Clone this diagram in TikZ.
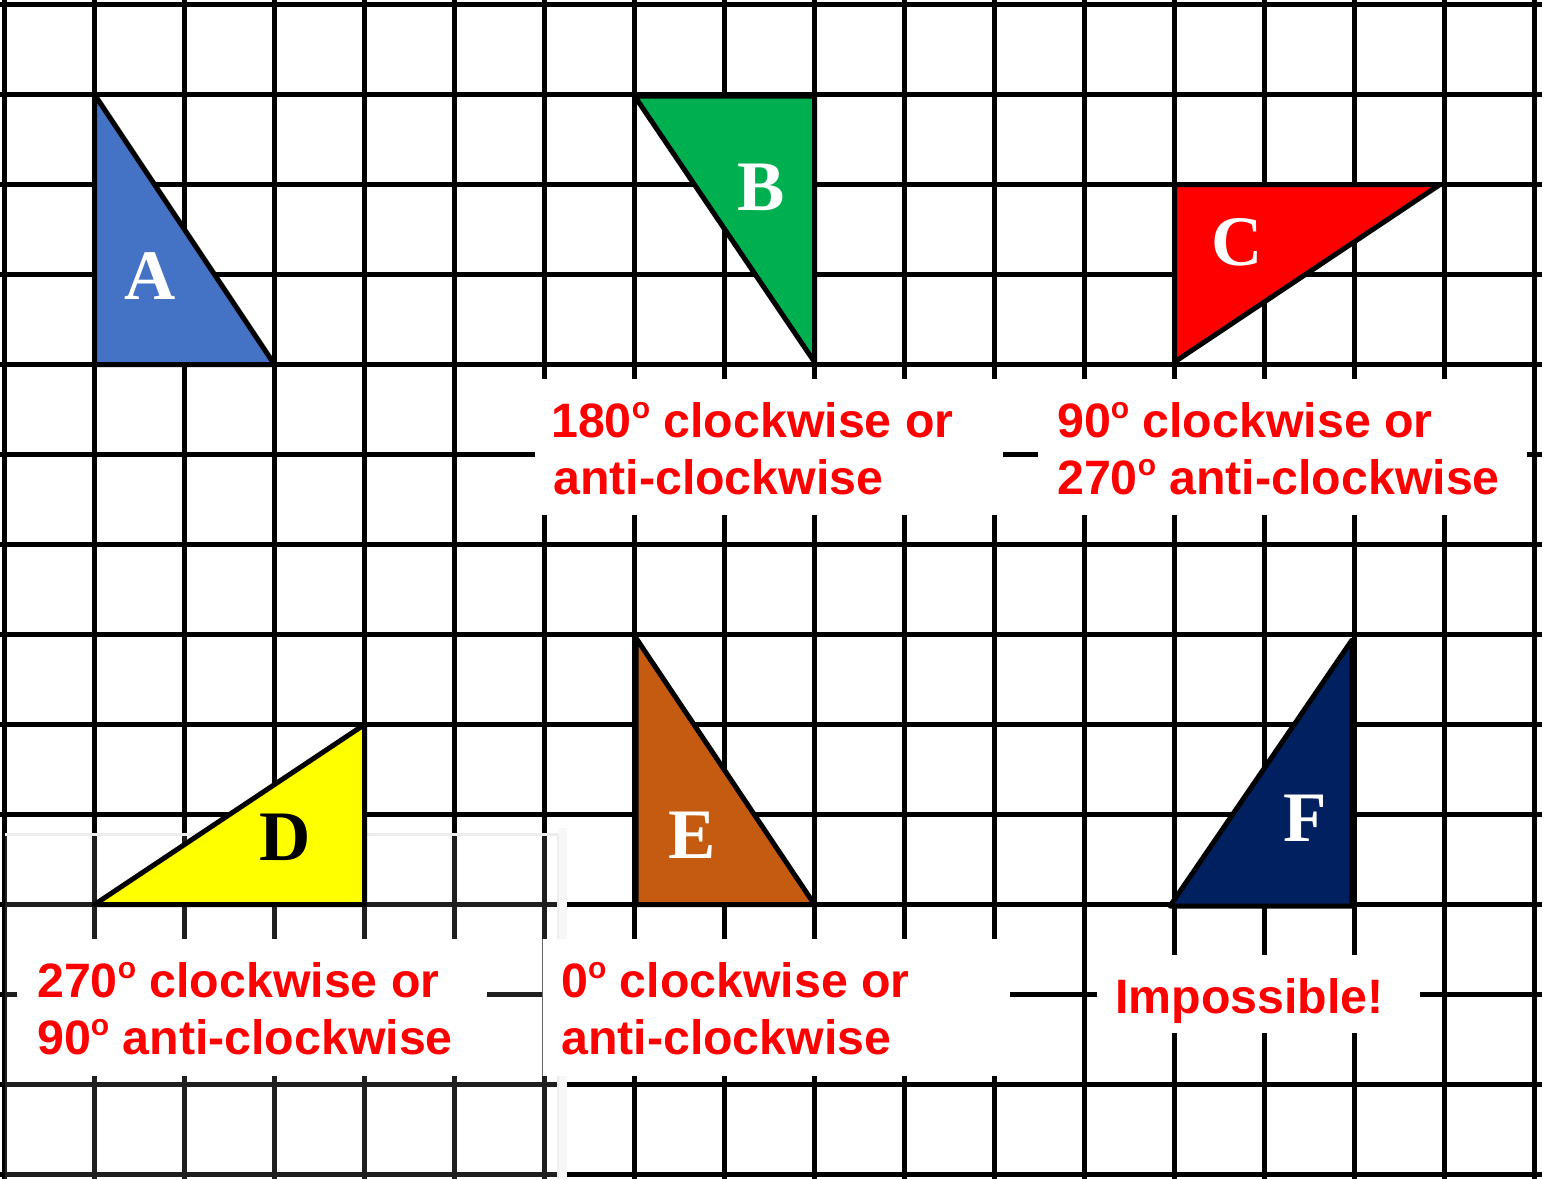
\documentclass[tikz,border=0pt]{standalone}
\usepackage{fontspec}
\newfontfamily\ansfont{Liberation Sans}
\newfontfamily\letfont{Liberation Serif}
\definecolor{triA}{HTML}{4472C4}
\definecolor{triB}{HTML}{00B050}
\definecolor{triC}{HTML}{FF0000}
\definecolor{triD}{HTML}{FFFF00}
\definecolor{triE}{HTML}{C55A11}
\definecolor{triF}{HTML}{002060}
\definecolor{ansred}{HTML}{FF0000}
\newcommand\dg{\raisebox{18.5pt}{\fontsize{30}{30}\selectfont o}}
\tikzset{
  gridline/.style={line width=4.3pt, black},
  tri/.style={line width=5pt, draw=black, line join=round},
  cover/.style={fill=white, draw=none},
  letlbl/.style={inner sep=0pt, font=\letfont\bfseries\fontsize{71}{71}\selectfont, text=white},
  ans/.style={inner sep=0pt, anchor=base west, text=ansred, font=\ansfont\bfseries\fontsize{48.3}{57}\selectfont}
}
\begin{document}
\begin{tikzpicture}[x=1pt,y=-1pt]
\useasboundingbox (0,0) rectangle (1542,1179);
\fill[white] (0,0) rectangle (1542,1179);
% grid
\foreach \i in {0,...,17} \draw[gridline] ({4.5+90*\i},0) -- ({4.5+90*\i},1179);
\foreach \j in {0,...,13} \draw[gridline] (0,{4.5+90*\j}) -- (1542,{4.5+90*\j});
% faint screenshot shadow
\fill[white, opacity=0.12] (5,835) rectangle (558,1179);
\draw[black!7, line width=3pt] (5,834) -- (558,834) -- (558,1179);
\draw[black!3, line width=8pt] (563,828) -- (563,1179);
% white answer boxes
\fill[cover] (535,379) rectangle (1003,515);
\fill[cover] (1038,379) rectangle (1527,515);
\fill[cover] (17,939) rectangle (487,1076);
\fill[cover] (542,939) rectangle (1010,1076);
\draw[black!60, line width=1pt] (542.5,939) -- (542.5,1076);
\fill[cover] (1097,955) rectangle (1420,1033);
% triangles
\draw[tri, fill=triA] (94.5,94.5) -- (94.5,364.5) -- (274.5,364.5) -- cycle;
\draw[tri, fill=triB] (634.5,96) -- (814.5,96) -- (814.5,362) -- cycle;
\draw[tri, fill=triC] (1174.5,184.5) -- (1440,184.5) -- (1174.5,362) -- cycle;
\draw[tri, fill=triD] (94.5,904.5) -- (364.5,904.5) -- (364.5,724.5) -- cycle;
\draw[tri, fill=triE] (636,638) -- (636,904.5) -- (814.5,904.5) -- cycle;
\draw[tri, fill=triF] (1352,640) -- (1352,906) -- (1170,906) -- cycle;
% letters
\node[letlbl] (lA) at (150,276) {A};
\node[letlbl] (lB) at (761,187) {B};
\node[letlbl] (lC) at (1237,242) {C};
\node[letlbl, text=black] (lD) at (285,837) {D};
\node[letlbl] (lE) at (692,835) {E};
\node[letlbl] (lF) at (1305,818) {F};
% answers
\node[ans] (tB1) at (551,437) {180\dg{} clockwise or};
\node[ans] (tB2) at (553,494) {anti-clockwise};
\node[ans] (tC1) at (1057,437) {90\dg{} clockwise or};
\node[ans] (tC2) at (1057,494) {270\dg{} anti-clockwise};
\node[ans] (tD1) at (37,997) {270\dg{} clockwise or};
\node[ans] (tD2) at (37,1054) {90\dg{} anti-clockwise};
\node[ans] (tE1) at (561,997) {0\dg{} clockwise or};
\node[ans] (tE2) at (561,1054) {anti-clockwise};
\node[ans] (tF) at (1115,1013) {Impossible!};
\end{tikzpicture}
\end{document}
